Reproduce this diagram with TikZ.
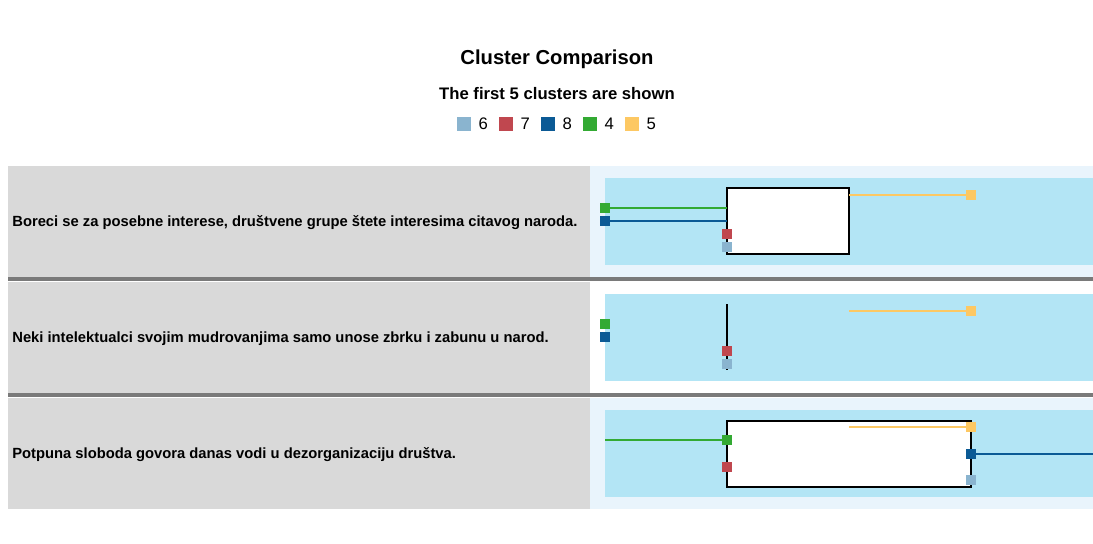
\documentclass[tikz,border=0pt]{standalone}
\usepackage{fontspec}
\setmainfont{Liberation Sans}
\usepackage{tikz}
\usetikzlibrary{positioning}

\definecolor{clsix}{HTML}{8AB4CF}
\definecolor{clseven}{HTML}{C0474F}
\definecolor{cleight}{HTML}{0B5A95}
\definecolor{clfour}{HTML}{33AA33}
\definecolor{clfive}{HTML}{FDC863}
\definecolor{labelgray}{HTML}{D9D9D9}
\definecolor{panelbg}{HTML}{E9F4FC}
\definecolor{plotbg}{HTML}{B3E5F5}
\definecolor{rulegray}{HTML}{7A7A7A}

\tikzset{
  sq/.style={rectangle, inner sep=0pt, minimum size=0.2cm, fill=#1},
  legsq/.style={rectangle, inner sep=0pt, minimum size=0.28cm, fill=#1},
  legtxt/.style={font=\fontsize{9.5}{10}\selectfont, inner sep=0pt, anchor=west},
  rowlabel/.style={font=\bfseries\fontsize{8.4}{10}\selectfont, anchor=west, inner sep=0pt},
  clbox/.style={draw=black, line width=0.9pt, fill=white},
  rowrule/.style={rulegray, line width=1.8pt}
}

\begin{document}
\begin{tikzpicture}[x=0.02cm,y=-0.02cm]
  \useasboundingbox (0,0) rectangle (1093,544);
  \fill[white] (0,0) rectangle (1093,544);

  % title and legend
  \node[font=\bfseries\fontsize{11.5}{13}\selectfont] (title) at (557,59) {Cluster Comparison};
  \node[font=\bfseries\fontsize{9.5}{11}\selectfont] (subtitle) at (557,94) {The first 5 clusters are shown};

  \node[legsq=clsix] (l6) at (464,124) {};
  \node[legtxt, right=4pt of l6] (t6) {6};
  \node[legsq=clseven] (l7) at (506,124) {};
  \node[legtxt, right=4pt of l7] (t7) {7};
  \node[legsq=cleight] (l8) at (548,124) {};
  \node[legtxt, right=4pt of l8] (t8) {8};
  \node[legsq=clfour] (l4) at (590,124) {};
  \node[legtxt, right=4pt of l4] (t4) {4};
  \node[legsq=clfive] (l5) at (632,124) {};
  \node[legtxt, right=4pt of l5] (t5) {5};

  % row backgrounds
  \fill[labelgray] (8,166) rectangle (590,277);
  \fill[panelbg] (590,166) rectangle (1093,277);
  \fill[plotbg] (605,178) rectangle (1093,265);
  \draw[rowrule] (8,279) -- (1093,279);

  \fill[labelgray] (8,282) rectangle (590,393);
  \fill[plotbg] (605,294) rectangle (1093,381);
  \draw[rowrule] (8,395) -- (1093,395);

  \fill[labelgray] (8,398) rectangle (590,509);
  \fill[panelbg] (590,398) rectangle (1093,509);
  \fill[plotbg] (605,410) rectangle (1093,497);

  % row labels
  \node[rowlabel] (q1) at (12,223) {Boreci se za posebne interese, društvene grupe štete interesima citavog naroda.};
  \node[rowlabel] (q2) at (12,339) {Neki intelektualci svojim mudrovanjima samo unose zbrku i zabunu u narod.};
  \node[rowlabel] (q3) at (12,455) {Potpuna sloboda govora danas vodi u dezorganizaciju društva.};

  % row 1
  \draw[clbox] (727,188) rectangle (849,254);
  \coordinate (r1five) at (849,195);
  \node[sq=clfour] (r1c4) at (605,208) {};
  \node[sq=cleight] (r1c8) at (605,221) {};
  \node[sq=clseven] (r1c7) at (727,234) {};
  \node[sq=clsix] (r1c6) at (727,247) {};
  \node[sq=clfive] (r1c5) at (971,195) {};
  \draw[clfour, thick] (r1c4) -- (727,208);
  \draw[cleight, thick] (r1c8) -- (727,221);
  \draw[clfive, thick] (r1five) -- (r1c5);

  % row 2
  \draw[black, line width=1.3pt] (727,304) -- (727,370);
  \coordinate (r2five) at (849,311);
  \node[sq=clfour] (r2c4) at (605,324) {};
  \node[sq=cleight] (r2c8) at (605,337) {};
  \node[sq=clseven] (r2c7) at (727,351) {};
  \node[sq=clsix] (r2c6) at (727,364) {};
  \node[sq=clfive] (r2c5) at (971,311) {};
  \draw[clfive, thick] (r2five) -- (r2c5);

  % row 3
  \draw[clbox] (727,421) rectangle (971,487);
  \coordinate (r3four) at (605,440);
  \coordinate (r3five) at (849,427);
  \coordinate (r3eight) at (1093,454);
  \node[sq=clfour] (r3c4) at (727,440) {};
  \node[sq=clseven] (r3c7) at (727,467) {};
  \node[sq=clfive] (r3c5) at (971,427) {};
  \node[sq=cleight] (r3c8) at (971,454) {};
  \node[sq=clsix] (r3c6) at (971,480) {};
  \draw[clfour, thick] (r3four) -- (r3c4);
  \draw[clfive, thick] (r3five) -- (r3c5);
  \draw[cleight, thick] (r3c8) -- (r3eight);
\end{tikzpicture}
\end{document}
